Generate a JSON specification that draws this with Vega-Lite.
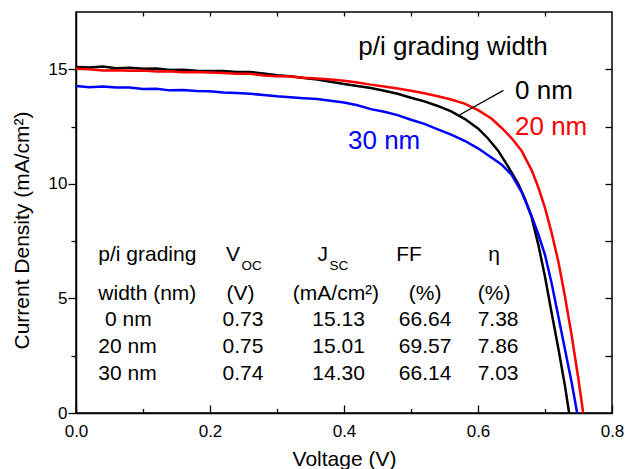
{
  "$schema": "https://vega.github.io/schema/vega-lite/v6.json",
  "width": 536,
  "height": 401,
  "autosize": {"type": "none"},
  "padding": {"left": 76, "top": 12, "right": 16, "bottom": 56},
  "background": "white",
  "config": {
    "font": "Liberation Sans",
    "view": {"stroke": "#000000", "strokeWidth": 1.5},
    "axis": {"grid": false, "domainColor": "#000000", "tickColor": "#000000", "labelColor": "#000000", "titleColor": "#000000", "domainWidth": 1.5, "tickWidth": 1.3, "labelFont": "Liberation Sans", "titleFont": "Liberation Sans", "titleFontWeight": "normal"}
  },
  "datasets": {
    "curves": [
      {"s": "0 nm", "V": 0, "J": 15.10}, {"s": "0 nm", "V": 0.02, "J": 15.08}, {"s": "0 nm", "V": 0.04, "J": 15.12}, {"s": "0 nm", "V": 0.06, "J": 15.05}, {"s": "0 nm", "V": 0.08, "J": 15.07}, {"s": "0 nm", "V": 0.1, "J": 15.02}, {"s": "0 nm", "V": 0.12, "J": 15.03}, {"s": "0 nm", "V": 0.14, "J": 14.97}, {"s": "0 nm", "V": 0.16, "J": 14.98}, {"s": "0 nm", "V": 0.18, "J": 14.94}, {"s": "0 nm", "V": 0.2, "J": 14.93}, {"s": "0 nm", "V": 0.22, "J": 14.92}, {"s": "0 nm", "V": 0.24, "J": 14.88}, {"s": "0 nm", "V": 0.26, "J": 14.88}, {"s": "0 nm", "V": 0.28, "J": 14.82}, {"s": "0 nm", "V": 0.3, "J": 14.74}, {"s": "0 nm", "V": 0.32, "J": 14.70}, {"s": "0 nm", "V": 0.34, "J": 14.62}, {"s": "0 nm", "V": 0.36, "J": 14.55}, {"s": "0 nm", "V": 0.38, "J": 14.46}, {"s": "0 nm", "V": 0.4, "J": 14.36}, {"s": "0 nm", "V": 0.42, "J": 14.27}, {"s": "0 nm", "V": 0.44, "J": 14.18}, {"s": "0 nm", "V": 0.46, "J": 14.06}, {"s": "0 nm", "V": 0.48, "J": 13.93}, {"s": "0 nm", "V": 0.5, "J": 13.76}, {"s": "0 nm", "V": 0.52, "J": 13.60}, {"s": "0 nm", "V": 0.54, "J": 13.40}, {"s": "0 nm", "V": 0.56, "J": 13.16}, {"s": "0 nm", "V": 0.58, "J": 12.84}, {"s": "0 nm", "V": 0.6, "J": 12.42}, {"s": "0 nm", "V": 0.615, "J": 11.98}, {"s": "0 nm", "V": 0.63, "J": 11.45}, {"s": "0 nm", "V": 0.645, "J": 10.75}, {"s": "0 nm", "V": 0.66, "J": 10.0}, {"s": "0 nm", "V": 0.67, "J": 9.35}, {"s": "0 nm", "V": 0.68, "J": 8.55}, {"s": "0 nm", "V": 0.69, "J": 7.35}, {"s": "0 nm", "V": 0.7, "J": 5.95}, {"s": "0 nm", "V": 0.71, "J": 4.35}, {"s": "0 nm", "V": 0.72, "J": 2.8}, {"s": "0 nm", "V": 0.73, "J": 1.15}, {"s": "0 nm", "V": 0.736, "J": 0},
      {"s": "30 nm", "V": 0, "J": 14.27}, {"s": "30 nm", "V": 0.02, "J": 14.22}, {"s": "30 nm", "V": 0.04, "J": 14.25}, {"s": "30 nm", "V": 0.06, "J": 14.20}, {"s": "30 nm", "V": 0.08, "J": 14.21}, {"s": "30 nm", "V": 0.1, "J": 14.14}, {"s": "30 nm", "V": 0.12, "J": 14.15}, {"s": "30 nm", "V": 0.14, "J": 14.08}, {"s": "30 nm", "V": 0.16, "J": 14.10}, {"s": "30 nm", "V": 0.18, "J": 14.05}, {"s": "30 nm", "V": 0.2, "J": 14.04}, {"s": "30 nm", "V": 0.22, "J": 13.99}, {"s": "30 nm", "V": 0.24, "J": 13.97}, {"s": "30 nm", "V": 0.26, "J": 13.93}, {"s": "30 nm", "V": 0.28, "J": 13.88}, {"s": "30 nm", "V": 0.3, "J": 13.82}, {"s": "30 nm", "V": 0.32, "J": 13.78}, {"s": "30 nm", "V": 0.34, "J": 13.74}, {"s": "30 nm", "V": 0.36, "J": 13.70}, {"s": "30 nm", "V": 0.38, "J": 13.63}, {"s": "30 nm", "V": 0.4, "J": 13.55}, {"s": "30 nm", "V": 0.42, "J": 13.43}, {"s": "30 nm", "V": 0.44, "J": 13.26}, {"s": "30 nm", "V": 0.46, "J": 13.15}, {"s": "30 nm", "V": 0.48, "J": 13.00}, {"s": "30 nm", "V": 0.5, "J": 12.80}, {"s": "30 nm", "V": 0.52, "J": 12.62}, {"s": "30 nm", "V": 0.54, "J": 12.38}, {"s": "30 nm", "V": 0.56, "J": 12.15}, {"s": "30 nm", "V": 0.58, "J": 11.88}, {"s": "30 nm", "V": 0.6, "J": 11.55}, {"s": "30 nm", "V": 0.62, "J": 11.15}, {"s": "30 nm", "V": 0.635, "J": 10.85}, {"s": "30 nm", "V": 0.65, "J": 10.40}, {"s": "30 nm", "V": 0.665, "J": 9.65}, {"s": "30 nm", "V": 0.68, "J": 8.6}, {"s": "30 nm", "V": 0.69, "J": 7.8}, {"s": "30 nm", "V": 0.7, "J": 6.9}, {"s": "30 nm", "V": 0.71, "J": 5.65}, {"s": "30 nm", "V": 0.72, "J": 4.2}, {"s": "30 nm", "V": 0.73, "J": 2.75}, {"s": "30 nm", "V": 0.74, "J": 1.3}, {"s": "30 nm", "V": 0.748, "J": 0},
      {"s": "20 nm", "V": 0, "J": 15.02}, {"s": "20 nm", "V": 0.02, "J": 15.00}, {"s": "20 nm", "V": 0.04, "J": 14.95}, {"s": "20 nm", "V": 0.06, "J": 14.96}, {"s": "20 nm", "V": 0.08, "J": 14.94}, {"s": "20 nm", "V": 0.1, "J": 14.95}, {"s": "20 nm", "V": 0.12, "J": 14.90}, {"s": "20 nm", "V": 0.14, "J": 14.91}, {"s": "20 nm", "V": 0.16, "J": 14.87}, {"s": "20 nm", "V": 0.18, "J": 14.88}, {"s": "20 nm", "V": 0.2, "J": 14.86}, {"s": "20 nm", "V": 0.22, "J": 14.84}, {"s": "20 nm", "V": 0.24, "J": 14.80}, {"s": "20 nm", "V": 0.26, "J": 14.80}, {"s": "20 nm", "V": 0.28, "J": 14.73}, {"s": "20 nm", "V": 0.3, "J": 14.70}, {"s": "20 nm", "V": 0.32, "J": 14.68}, {"s": "20 nm", "V": 0.34, "J": 14.63}, {"s": "20 nm", "V": 0.36, "J": 14.60}, {"s": "20 nm", "V": 0.38, "J": 14.55}, {"s": "20 nm", "V": 0.4, "J": 14.50}, {"s": "20 nm", "V": 0.42, "J": 14.42}, {"s": "20 nm", "V": 0.44, "J": 14.33}, {"s": "20 nm", "V": 0.46, "J": 14.25}, {"s": "20 nm", "V": 0.48, "J": 14.16}, {"s": "20 nm", "V": 0.5, "J": 14.06}, {"s": "20 nm", "V": 0.52, "J": 13.95}, {"s": "20 nm", "V": 0.54, "J": 13.82}, {"s": "20 nm", "V": 0.56, "J": 13.68}, {"s": "20 nm", "V": 0.58, "J": 13.50}, {"s": "20 nm", "V": 0.6, "J": 13.22}, {"s": "20 nm", "V": 0.62, "J": 12.85}, {"s": "20 nm", "V": 0.635, "J": 12.45}, {"s": "20 nm", "V": 0.65, "J": 12.0}, {"s": "20 nm", "V": 0.665, "J": 11.45}, {"s": "20 nm", "V": 0.68, "J": 10.6}, {"s": "20 nm", "V": 0.69, "J": 9.85}, {"s": "20 nm", "V": 0.7, "J": 8.95}, {"s": "20 nm", "V": 0.71, "J": 7.85}, {"s": "20 nm", "V": 0.72, "J": 6.6}, {"s": "20 nm", "V": 0.73, "J": 5.05}, {"s": "20 nm", "V": 0.74, "J": 3.35}, {"s": "20 nm", "V": 0.75, "J": 1.45}, {"s": "20 nm", "V": 0.757, "J": 0}
    ],
    "labels": [
      {"s": "0 nm", "V": 0.6552, "J": 13.69, "t": "0 nm"},
      {"s": "20 nm", "V": 0.6552, "J": 12.15, "t": "20 nm"},
      {"s": "30 nm", "V": 0.406, "J": 11.54, "t": "30 nm"}
    ],
    "heading": [{"V": 0.4213, "J": 15.64, "t": "p/i grading width"}],
    "leader": [{"V": 0.573, "J": 13.02, "V2": 0.638, "J2": 14.08}],
    "tableLeft": [
      {"V": 0.0333, "J": 6.63, "t": "p/i grading"},
      {"V": 0.0333, "J": 4.93, "t": "width (nm)"},
      {"V": 0.0433, "J": 3.80, "t": "0 nm"},
      {"V": 0.0333, "J": 2.62, "t": "20 nm"},
      {"V": 0.0333, "J": 1.44, "t": "30 nm"}
    ],
    "tableCenter": [
      {"V": 0.497, "J": 6.63, "t": "FF"},
      {"V": 0.624, "J": 6.63, "t": "η"},
      {"V": 0.2455, "J": 4.93, "t": "(V)"},
      {"V": 0.388, "J": 4.93, "t": "(mA/cm²)"},
      {"V": 0.521, "J": 4.93, "t": "(%)"},
      {"V": 0.624, "J": 4.93, "t": "(%)"},
      {"V": 0.2493, "J": 3.80, "t": "0.73"},
      {"V": 0.392, "J": 3.80, "t": "15.13"},
      {"V": 0.521, "J": 3.80, "t": "66.64"},
      {"V": 0.63, "J": 3.80, "t": "7.38"},
      {"V": 0.2493, "J": 2.62, "t": "0.75"},
      {"V": 0.392, "J": 2.62, "t": "15.01"},
      {"V": 0.521, "J": 2.62, "t": "69.57"},
      {"V": 0.63, "J": 2.62, "t": "7.86"},
      {"V": 0.2493, "J": 1.44, "t": "0.74"},
      {"V": 0.392, "J": 1.44, "t": "14.30"},
      {"V": 0.521, "J": 1.44, "t": "66.14"},
      {"V": 0.63, "J": 1.44, "t": "7.03"}
    ],
    "tableMain": [
      {"V": 0.2448, "J": 6.63, "t": "V"},
      {"V": 0.376, "J": 6.63, "t": "J"}
    ],
    "tableSub": [
      {"V": 0.2448, "J": 6.63, "t": "OC"},
      {"V": 0.376, "J": 6.63, "t": "SC"}
    ]
  },
  "layer": [
    {
      "data": {"name": "curves"},
      "mark": {"type": "line", "strokeWidth": 2.5, "interpolate": "linear"},
      "encoding": {
        "x": {"field": "V", "type": "quantitative", "scale": {"domain": [0, 0.8], "nice": false, "zero": false},
          "axis": {"orient": "bottom", "title": "Voltage (V)", "values": [0, 0.1, 0.2, 0.3, 0.4, 0.5, 0.6, 0.7, 0.8],
            "labelExpr": "round(datum.value*10) % 2 == 0 ? format(datum.value, '.1f') : ''",
            "tickSize": {"condition": {"test": "round(datum.value*10) % 2 != 0", "value": -4.5}, "value": -8},
            "labelFontSize": 17, "labelPadding": 18, "titleFontSize": 21, "titlePadding": 6, "labelFlush": false, "labelOverlap": false}},
        "y": {"field": "J", "type": "quantitative", "scale": {"domain": [0, 17.5], "nice": false, "zero": false},
          "axis": {"orient": "left", "title": "Current Density (mA/cm²)", "values": [0, 2.5, 5, 7.5, 10, 12.5, 15],
            "labelExpr": "round(datum.value*2) % 10 == 0 ? datum.label : ''",
            "tickSize": {"condition": {"test": "round(datum.value*2) % 10 != 0", "value": 5}, "value": 8},
            "labelFontSize": 17, "labelPadding": 1, "titleFontSize": 21, "titlePadding": 16, "titleY": 218, "labelFlush": false, "labelOverlap": false}},
        "color": {"field": "s", "type": "nominal", "scale": {"domain": ["0 nm", "20 nm", "30 nm"], "range": ["#000000", "#ff0000", "#0000ff"]}, "legend": null}
      }
    },
    {
      "data": {"name": "labels"},
      "mark": {"type": "text", "fontSize": 26, "align": "left", "baseline": "alphabetic"},
      "encoding": {
        "x": {"field": "V", "type": "quantitative", "axis": {"orient": "top", "title": null, "labels": false, "domain": false, "values": [0.1, 0.2, 0.3, 0.4, 0.5, 0.6, 0.7], "tickSize": -4}},
        "y": {"field": "J", "type": "quantitative", "axis": {"orient": "right", "title": null, "labels": false, "domain": false, "values": [2.5, 5, 7.5, 10, 12.5, 15], "tickSize": -7}},
        "text": {"field": "t"},
        "color": {"field": "s", "type": "nominal", "legend": null}
      }
    },
    {
      "data": {"name": "heading"},
      "mark": {"type": "text", "fontSize": 26, "align": "left", "baseline": "alphabetic", "color": "#000000"},
      "encoding": {
        "x": {"field": "V", "type": "quantitative", "axis": null},
        "y": {"field": "J", "type": "quantitative", "axis": null},
        "text": {"field": "t"}
      }
    },
    {
      "data": {"name": "leader"},
      "mark": {"type": "rule", "color": "#000000", "strokeWidth": 1.2},
      "encoding": {
        "x": {"field": "V", "type": "quantitative", "axis": null},
        "y": {"field": "J", "type": "quantitative", "axis": null},
        "x2": {"field": "V2"},
        "y2": {"field": "J2"}
      }
    },
    {
      "data": {"name": "tableLeft"},
      "mark": {"type": "text", "fontSize": 21, "align": "left", "baseline": "alphabetic", "color": "#000000"},
      "encoding": {
        "x": {"field": "V", "type": "quantitative", "axis": null},
        "y": {"field": "J", "type": "quantitative", "axis": null},
        "text": {"field": "t"}
      }
    },
    {
      "data": {"name": "tableCenter"},
      "mark": {"type": "text", "fontSize": 21, "align": "center", "baseline": "alphabetic", "color": "#000000"},
      "encoding": {
        "x": {"field": "V", "type": "quantitative", "axis": null},
        "y": {"field": "J", "type": "quantitative", "axis": null},
        "text": {"field": "t"}
      }
    },
    {
      "data": {"name": "tableMain"},
      "mark": {"type": "text", "fontSize": 21, "align": "right", "baseline": "alphabetic", "color": "#000000"},
      "encoding": {
        "x": {"field": "V", "type": "quantitative", "axis": null},
        "y": {"field": "J", "type": "quantitative", "axis": null},
        "text": {"field": "t"}
      }
    },
    {
      "data": {"name": "tableSub"},
      "mark": {"type": "text", "fontSize": 13.5, "align": "left", "baseline": "alphabetic", "dx": 1.5, "dy": 9, "color": "#000000"},
      "encoding": {
        "x": {"field": "V", "type": "quantitative", "axis": null},
        "y": {"field": "J", "type": "quantitative", "axis": null},
        "text": {"field": "t"}
      }
    }
  ],
  "resolve": {"axis": {"x": "independent", "y": "independent"}}
}
